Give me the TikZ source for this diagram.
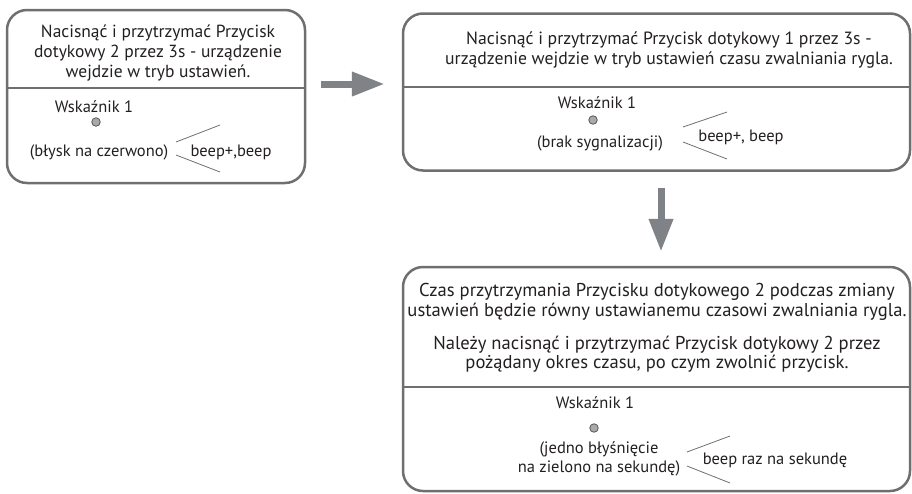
\documentclass[tikz,border=0pt]{standalone}
\usepackage{fontspec}
\setmainfont{PT Sans}
\usetikzlibrary{arrows.meta,calc}
\definecolor{boxgray}{HTML}{6D6F71}
\definecolor{arrowgray}{HTML}{7F8387}
\definecolor{txt}{HTML}{231F20}
\definecolor{dotgray}{HTML}{A7A9AC}
\begin{document}
\begin{tikzpicture}[x=1pt,y=-1pt,
  box/.style={draw=boxgray, line width=2.5pt, rounded corners=20pt, inner sep=0pt},
  txtnode/.style={text=txt, font=\fontsize{16.5}{19.5}\selectfont, align=center, inner sep=0pt},
  divider/.style={draw=boxgray, line width=1.2pt},
  wedge/.style={draw=boxgray, line width=0.8pt},
  led/.style={circle, draw=txt!75, fill=dotgray, line width=0.8pt, minimum size=8.5pt, inner sep=0pt},
  fatarrow/.style={draw=arrowgray, line width=7pt, -{Triangle[length=33pt,width=23pt]}}]
\useasboundingbox (0,0) rectangle (912,493);

% boxes
\node[box, minimum width=298pt, minimum height=173pt] (b1) at (156,96.5) {};
\node[box, minimum width=507pt, minimum height=157pt] (b2) at (656.5,92) {};
\node[box, minimum width=507pt, minimum height=224pt] (b3) at (656.5,379) {};

% dividers
\draw[divider] (b1.west |- 0,88) -- (b1.east |- 0,88);
\draw[divider] (b2.west |- 0,87) -- (b2.east |- 0,87);
\draw[divider] (b3.west |- 0,387) -- (b3.east |- 0,387);

% box 1
\node[txtnode, font=\fontsize{17.5}{20}\selectfont] (t1) at (158,53) {Nacisnąć i przytrzymać Przycisk\\dotykowy 2 przez 3s - urządzenie\\wejdzie w tryb ustawień.};
\node[txtnode] (w1) at (94,107) {Wskaźnik 1};
\node[led] (d1) at (96,122) {};
\node[txtnode] (s1) at (99,152) {(błysk na czerwono)};
\node[txtnode] (p1) at (231,152) {beep+,beep};
\coordinate (a1) at (176,142);
\coordinate (a1u) at (220,125);
\coordinate (a1d) at (220,172);
\coordinate (a1l) at (176,155);
\draw[wedge] (a1) -- (a1u);
\draw[wedge] (a1l) -- (a1d);

% box 2
\node[txtnode, font=\fontsize{17.7}{19.5}\selectfont] (t2) at (669,50) {Nacisnąć i przytrzymać Przycisk dotykowy 1 przez 3s -\\urządzenie wejdzie w tryb ustawień czasu zwalniania rygla.};
\node[txtnode] (w2) at (597,103) {Wskaźnik 1};
\node[led] (d2) at (593,120) {};
\node[txtnode] (s2) at (600,143) {(brak sygnalizacji)};
\node[txtnode] (p2) at (741,137) {beep+, beep};
\coordinate (a2) at (683,127);
\coordinate (a2u) at (727,112);
\coordinate (a2l) at (683,142);
\coordinate (a2d) at (727,159);
\draw[wedge] (a2) -- (a2u);
\draw[wedge] (a2l) -- (a2d);

% box 3
\node[txtnode, font=\fontsize{18.6}{19.5}\selectfont] (t3) at (657,302) {Czas przytrzymania Przycisku dotykowego 2 podczas zmiany\\ustawień będzie równy ustawianemu czasowi zwalniania rygla.};
\node[txtnode, font=\fontsize{18.6}{19.5}\selectfont] (t3b) at (657,354) {Należy nacisnąć i przytrzymać Przycisk dotykowy 2 przez\\pożądany okres czasu, po czym zwolnić przycisk.};
\node[txtnode] (w3) at (595,403) {Wskaźnik 1};
\node[led] (d3) at (594,428) {};
\node[txtnode] (s3) at (599,459) {(jedno błyśnięcie\\na zielono na sekundę)};
\node[txtnode] (p3) at (775,460) {beep raz na sekundę};
\coordinate (a3) at (687,452);
\coordinate (a3u) at (730,436);
\coordinate (a3l) at (687,466);
\coordinate (a3d) at (730,483);
\draw[wedge] (a3) -- (a3u);
\draw[wedge] (a3l) -- (a3d);

% arrows
\draw[fatarrow] ($(b1.east |- 0,84)+(15,0)$) -- ($(b2.west |- 0,84)+(-17,0)$);
\draw[fatarrow] ($(b2.south -| 661,0)+(0,16)$) -- ($(b3.north -| 661,0)+(0,-14)$);
\end{tikzpicture}
\end{document}
